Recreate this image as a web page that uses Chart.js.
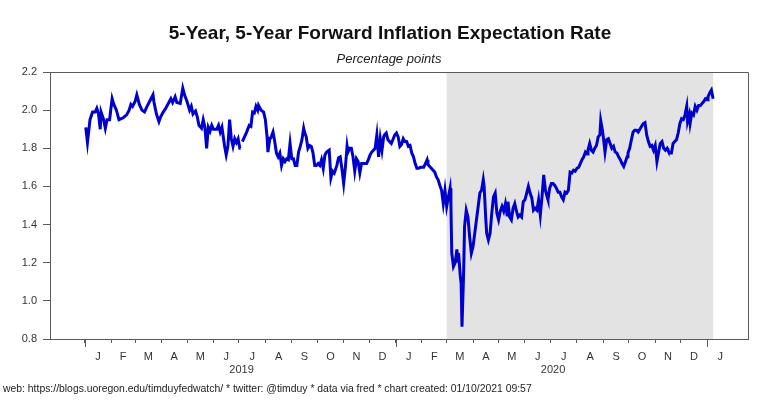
<!DOCTYPE html>
<html lang="en">
<head>
    <meta charset="UTF-8">
    <title>5-Year, 5-Year Forward Inflation Expectation Rate</title>
    <script src="https://cdn.jsdelivr.net/npm/chart.js"></script>
    <style>
        body {
            margin: 0;
            background: white;
            font-family: "Liberation Sans", Arial, sans-serif;
        }
        .wrap {
            position: relative;
            width: 768px;
            height: 413px;
        }
        canvas {
            position: absolute;
            left: 0;
            top: 0;
        }
        .title {
            position: absolute;
            left: 390px;
            top: 23px;
            transform: translateX(-50%);
            font-size: 19px;
            line-height: 19px;
            font-weight: bold;
            color: #111;
            white-space: nowrap;
        }
        .subtitle {
            position: absolute;
            left: 389px;
            top: 52px;
            transform: translateX(-50%);
            font-size: 13px;
            line-height: 13px;
            font-style: italic;
            color: #222;
            white-space: nowrap;
        }
        .footer {
            position: absolute;
            left: 3px;
            top: 383px;
            font-size: 10.4px;
            line-height: 11px;
            color: #222;
            white-space: nowrap;
        }
    </style>
</head>
<body>
    <div class="wrap">
        <canvas id="myChart" width="768" height="413"></canvas>
        <div class="title">5-Year, 5-Year Forward Inflation Expectation Rate</div>
        <div class="subtitle">Percentage points</div>
        <div class="footer">web: https://blogs.uoregon.edu/timduyfedwatch/ * twitter: @timduy * data via fred * chart created: 01/10/2021 09:57</div>
    </div>

    <script>
        // days counted from 2019-01-01, values in percentage points
        const days = [
            1, 3, 6, 9, 12, 14, 16, 18, 19, 22, 24, 26, 29, 32, 34, 37, 40, 45, 49, 52, 54, 56, 59, 61, 64, 67, 70, 73, 76, 80, 81, 84, 87, 89, 92, 95, 98, 101, 103, 106, 108, 112, 115, 117, 120, 123, 125, 127, 130, 132, 134, 137, 139,
            141, 143, 145, 147, 149, 151, 155, 157, 159, 161, 164, 166, 168, 170, 172, 174, 176, 178, 180, 182, 183, 184, 185, 190, 193, 195, 197, 199, 201, 203, 204, 207, 210, 212, 214, 215, 217, 219, 221, 223, 225, 227, 229, 231, 233, 235, 237, 239, 241, 243, 245, 247, 249, 251, 253, 255, 257, 258, 260, 262, 264, 266, 268, 270, 272, 274, 276, 278, 280, 282, 284, 287, 289, 291, 293, 296, 298, 300,
            302, 304, 306, 308, 309, 311, 313, 315, 317, 319, 321, 323, 325, 327, 331, 333, 335, 337, 339, 341, 343, 345, 347, 349, 351, 352, 354, 356, 360, 364, 366, 368, 370, 372, 374, 376, 378, 380, 382, 384, 386, 388, 390, 392, 394, 398, 400, 402, 403, 405, 407, 409, 411, 413, 415, 417, 419, 421, 423, 425, 427, 429, 430, 431, 433, 435, 437, 438, 439, 441, 442, 443, 445, 446,
            448, 450, 452, 454, 456, 458, 460, 462, 464, 466, 468, 469, 471, 472, 474, 476, 478, 480, 482, 484, 486, 488, 490, 492, 494, 496, 497, 499, 501, 503, 505, 507, 509, 511, 513, 515, 517, 519, 521, 523, 525, 527, 529, 531, 533, 535, 537, 539, 541, 543, 544, 546, 548, 550, 552, 554, 556, 558, 560, 562, 564, 566, 568, 570, 572, 574, 576, 578, 580, 582, 584, 586,
            588, 590, 591, 593, 595, 597, 599, 601, 603, 605, 606, 608, 609, 611, 613, 615, 617, 619, 621, 623, 625, 627, 629, 631, 633, 635, 637, 638, 640, 642, 644, 646, 648, 650, 652, 654, 656, 658, 660, 662, 664, 666, 668, 670, 672, 674, 676, 678, 680, 682, 684, 685, 687, 689, 691, 693, 695, 697, 699, 701, 703, 705, 707, 708, 710, 711, 713, 715, 717, 719, 721, 723, 725, 727, 729, 731, 732, 734, 736, 738
        ];
        const rate = [
            1.91, 1.83, 1.95, 1.99, 1.99, 2.01, 1.98, 1.90, 1.99, 1.95, 1.905, 1.95, 1.95, 2.06, 2.03, 2.00, 1.95, 1.96, 1.975, 2.00, 2.03, 2.02, 2.045, 2.08, 2.03, 2.00, 1.99, 2.02, 2.045, 2.08, 2.045, 1.98, 1.94, 1.965, 1.99, 2.01, 2.035, 2.06, 2.04, 2.07, 2.04, 2.035, 2.115, 2.08, 2.045, 2.00, 2.02, 1.98, 1.995, 1.965, 1.92, 1.905, 1.95,
            1.91, 1.80, 1.91, 1.89, 1.92, 1.90, 1.90, 1.92, 1.885, 1.91, 1.815, 1.765, 1.81, 1.95, 1.85, 1.81, 1.85, 1.83, 1.85, 1.80, 1.80, null, 1.835, 1.885, 1.92, 1.915, 1.99, 1.985, 2.02, 2.00, 2.025, 2.00, 1.99, 1.95, 1.86, 1.78, 1.845, 1.86, 1.885, 1.835, 1.775, 1.755, 1.775, 1.71, 1.745, 1.73, 1.745, 1.74, 1.825, 1.745, 1.745, 1.71, 1.71, 1.78, 1.81, 1.845, 1.905, 1.885, 1.86, 1.80, 1.815, 1.81, 1.775, 1.71, 1.71, 1.72, 1.71, 1.74, 1.695, 1.765, 1.78, 1.79, 1.645, 1.68, 1.67, 1.71, 1.75, 1.755,
            1.69, 1.615, 1.70, 1.81, 1.78, 1.80, 1.80, 1.755, 1.68, 1.745, 1.73, 1.67, 1.72, 1.72, 1.72, 1.74, 1.765, 1.78, 1.79, 1.80, 1.87, 1.755, 1.85, 1.79, 1.86, 1.87, 1.88, 1.845, 1.825, 1.87, 1.88, 1.86, 1.81, 1.82, 1.85, 1.835, 1.835, 1.81, 1.815, 1.775, 1.755, 1.72, 1.695, 1.695, 1.70, 1.70, 1.72, 1.74, 1.715, 1.705, 1.695, 1.685, 1.675, 1.65, 1.635, 1.605, 1.58, 1.51, 1.58, 1.495, 1.545, 1.59, 1.50, 1.25, 1.18, 1.20, 1.27, 1.20, 1.25, 1.13, 1.09, 0.865, 1.16, 1.39,
            1.475, 1.44, 1.335, 1.25, 1.285, 1.355, 1.425, 1.495, 1.565, 1.58, 1.635, 1.60, 1.425, 1.355, 1.32, 1.355, 1.46, 1.545, 1.565, 1.46, 1.425, 1.47, 1.495, 1.47, 1.51, 1.45, 1.52, 1.44, 1.425, 1.485, 1.51, 1.47, 1.44, 1.45, 1.44, 1.52, 1.53, 1.565, 1.60, 1.565, 1.54, 1.475, 1.485, 1.475, 1.53, 1.45, 1.545, 1.66, 1.58, 1.545, 1.53, 1.59, 1.615, 1.615, 1.605, 1.59, 1.57, 1.57, 1.545, 1.53, 1.57, 1.565, 1.58, 1.675, 1.67, 1.685, 1.68, 1.695, 1.70, 1.72, 1.74, 1.755,
            1.78, 1.77, 1.79, 1.825, 1.79, 1.78, 1.80, 1.815, 1.86, 1.87, 1.945, 1.895, 1.86, 1.78, 1.845, 1.85, 1.825, 1.80, 1.81, 1.78, 1.775, 1.755, 1.74, 1.72, 1.705, 1.73, 1.755, 1.775, 1.80, 1.845, 1.885, 1.895, 1.895, 1.885, 1.90, 1.915, 1.93, 1.935, 1.87, 1.835, 1.81, 1.815, 1.79, 1.815, 1.73, 1.78, 1.825, 1.835, 1.80, 1.79, 1.80, 1.79, 1.775, 1.775, 1.825, 1.835, 1.845, 1.88, 1.93, 1.955, 1.95, 1.975, 2.02, 1.94, 1.975, 1.93, 1.985, 1.975, 2.02, 2.00, 2.025, 2.025, 2.035, 2.045, 2.06, 2.055, 2.07, 2.09, 2.105, 2.06
        ];

        // grey band (recession shading), in days from 2019-01-01
        const shadeFrom = 425;   // 2020-03-01
        const shadeTo = 738;     // last observation

        const years = [2019, 2020];
        const monthLetters = ['J', 'F', 'M', 'A', 'M', 'J', 'J', 'A', 'S', 'O', 'N', 'D'];

        const DAY = 86400000;
        const base = Date.UTC(2019, 0, 1);
        const dayOf = (y, m, d) => (Date.UTC(y, m, d) - base) / DAY;

        // tick marks at month starts, letters at mid-month, year under July
        const tickMarks = [];
        const labelAt = {};
        years.forEach(y => {
            monthLetters.forEach((letter, m) => {
                const start = dayOf(y, m, 1);
                const end = dayOf(y, m + 1, 1);
                tickMarks.push(start);
                labelAt[(start + end) / 2] = letter;
            });
            labelAt[dayOf(y, 6, 4)] = ['', String(y)];
        });
        // January of the following year
        const lastYear = years[years.length - 1] + 1;
        tickMarks.push(dayOf(lastYear, 0, 1));
        labelAt[(dayOf(lastYear, 0, 1) + dayOf(lastYear, 1, 1)) / 2] = monthLetters[0];

        const janTicks = tickMarks.filter((v, i) => i % 12 === 0);
        const allTicks = tickMarks.concat(Object.keys(labelAt).map(Number)).sort((a, b) => a - b);

        const points = days.map((d, i) => ({ x: d, y: rate[i] }));

        const axisColor = '#5a5a5a';

        const shadePlugin = {
            id: 'shade',
            beforeDatasetsDraw(chart) {
                const { ctx, chartArea, scales } = chart;
                const x0 = scales.x.getPixelForValue(shadeFrom);
                const x1 = scales.x.getPixelForValue(shadeTo);
                ctx.save();
                ctx.fillStyle = '#e3e3e3';
                ctx.fillRect(x0, chartArea.top, x1 - x0, chartArea.bottom - chartArea.top);
                ctx.restore();
            }
        };

        const framePlugin = {
            id: 'frame',
            afterDraw(chart) {
                const { ctx, chartArea, scales } = chart;
                ctx.save();
                ctx.strokeStyle = axisColor;
                ctx.lineWidth = 1;
                ctx.beginPath();
                ctx.moveTo(chartArea.left, chartArea.top + 0.5);
                ctx.lineTo(chartArea.right + 0.5, chartArea.top + 0.5);
                ctx.lineTo(chartArea.right + 0.5, chartArea.bottom);
                // year boundaries get a longer tick
                janTicks.forEach(v => {
                    const px = Math.round(scales.x.getPixelForValue(v)) + 0.5;
                    ctx.moveTo(px, chartArea.bottom);
                    ctx.lineTo(px, chartArea.bottom + 8);
                });
                ctx.stroke();
                ctx.restore();
            }
        };

        const ctx = document.getElementById('myChart').getContext('2d');
        new Chart(ctx, {
            type: 'line',
            data: {
                datasets: [{
                    data: points,
                    borderColor: '#0000cd',
                    borderWidth: 3,
                    pointRadius: 0,
                    tension: 0,
                    spanGaps: false
                }]
            },
            options: {
                responsive: false,
                animation: false,
                layout: {
                    padding: { left: 0, right: 20, top: 72, bottom: 0 }
                },
                plugins: {
                    legend: { display: false },
                    tooltip: { enabled: false }
                },
                scales: {
                    x: {
                        type: 'linear',
                        min: -41,
                        max: 779,
                        afterFit(scale) { scale.height = 74; },
                        afterBuildTicks(scale) {
                            scale.ticks = allTicks.map(v => ({ value: v }));
                        },
                        border: { color: axisColor },
                        grid: {
                            drawOnChartArea: false,
                            tickLength: 4,
                            tickColor: c => (labelAt[c.tick.value] !== undefined ? 'rgba(0,0,0,0)' : axisColor)
                        },
                        ticks: {
                            autoSkip: false,
                            maxRotation: 0,
                            padding: 7,
                            color: '#333',
                            font: { family: '"Liberation Sans", Arial, sans-serif', size: 11 },
                            callback: v => (labelAt[v] !== undefined ? labelAt[v] : '')
                        }
                    },
                    y: {
                        min: 0.8,
                        max: 2.2,
                        afterFit(scale) { scale.width = 50; },
                        border: { color: axisColor },
                        grid: {
                            drawOnChartArea: false,
                            tickLength: 7,
                            color: axisColor
                        },
                        ticks: {
                            stepSize: 0.2,
                            padding: 6,
                            color: '#333',
                            font: { family: '"Liberation Sans", Arial, sans-serif', size: 11 },
                            callback: v => v.toFixed(1)
                        }
                    }
                }
            },
            plugins: [shadePlugin, framePlugin]
        });
    </script>
</body>
</html>
